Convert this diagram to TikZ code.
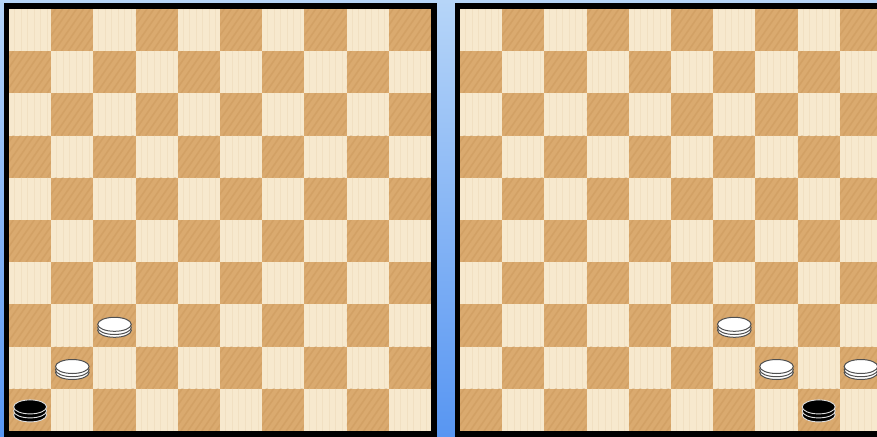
\documentclass[tikz,border=0pt]{standalone}
\usetikzlibrary{calc}
\definecolor{lightwood}{RGB}{247,233,206}
\definecolor{darkwood}{RGB}{218,170,111}
\definecolor{grainbrown}{RGB}{185,130,70}
\definecolor{grainpale}{RGB}{225,200,160}
\definecolor{skytop}{RGB}{182,213,248}
\definecolor{skybottom}{RGB}{88,150,242}
\definecolor{rimgray}{RGB}{80,80,80}
\newcommand{\sqsize}{42.2}
\tikzset{
  lightsq/.style={
    fill=lightwood,
    path picture={
      \foreach \k in {1,...,6}
        \draw[palegrain] ($(path picture bounding box.south west)+(\k*6.5-1,0)$) -- ++(0,-44);
    }
  },
  darksq/.style={
    fill=darkwood,
    path picture={
      \foreach \k in {0,...,9}
        \draw[grain] ($(path picture bounding box.south west)+(\k*7-25,0)$) -- ++(32,-46);
    }
  },
  grain/.style={
    draw=grainbrown,
    line width=1.6pt,
    opacity=0.22
  },
  palegrain/.style={
    draw=grainpale,
    line width=1pt,
    opacity=0.25
  },
  frame/.style={
    draw=black,
    line width=5.5pt
  },
  whitedisc/.style={
    fill=white,
    draw=rimgray,
    line width=1pt
  },
  blackdisc/.style={
    fill=black,
    draw=white!75!gray,
    line width=0.9pt
  },
  whiteman/.pic={
    \foreach \dy in {4.8,2,-1.2}
      \path[whitedisc] (0,\dy) ellipse [x radius=16.8, y radius=7];
  },
  blackking/.pic={
    \foreach \dy in {5,1,-3}
      \path[blackdisc] (0,\dy) ellipse [x radius=16.5, y radius=7];
  }
}
\begin{document}
\begin{tikzpicture}[x=1pt, y=-1pt]
\useasboundingbox (0,0) rectangle (877,436);
\clip (0,0) rectangle (877,436);

% Backdrop.
\shade[top color=skytop, bottom color=skybottom] (0,0) rectangle (877,436);

% The two boards.
\foreach \bx in {9,460} {
  \foreach \r in {0,...,9} {
    \foreach \c in {0,...,9} {
      \pgfmathparse{int(mod(\r+\c,2))}
      \ifnum\pgfmathresult=0 \def\sqstyle{lightsq}\else\def\sqstyle{darksq}\fi
      \path[\sqstyle] ({\bx+\c*\sqsize},{9+\r*\sqsize}) rectangle ++(\sqsize,\sqsize);
    }
  }
  \draw[frame] ({\bx-2.75},6.25) rectangle ({\bx+10*\sqsize+2.75},{9+10*\sqsize+2.75});
}

% Pieces.
\foreach \bx/\c/\r/\kind in {9/0/9/blackking, 9/1/8/whiteman, 9/2/7/whiteman,
    460/6/7/whiteman, 460/7/8/whiteman, 460/9/8/whiteman, 460/8/9/blackking}
  \pic at ({\bx+(\c+0.5)*\sqsize},{9+(\r+0.5)*\sqsize}) {\kind};

\end{tikzpicture}
\end{document}
